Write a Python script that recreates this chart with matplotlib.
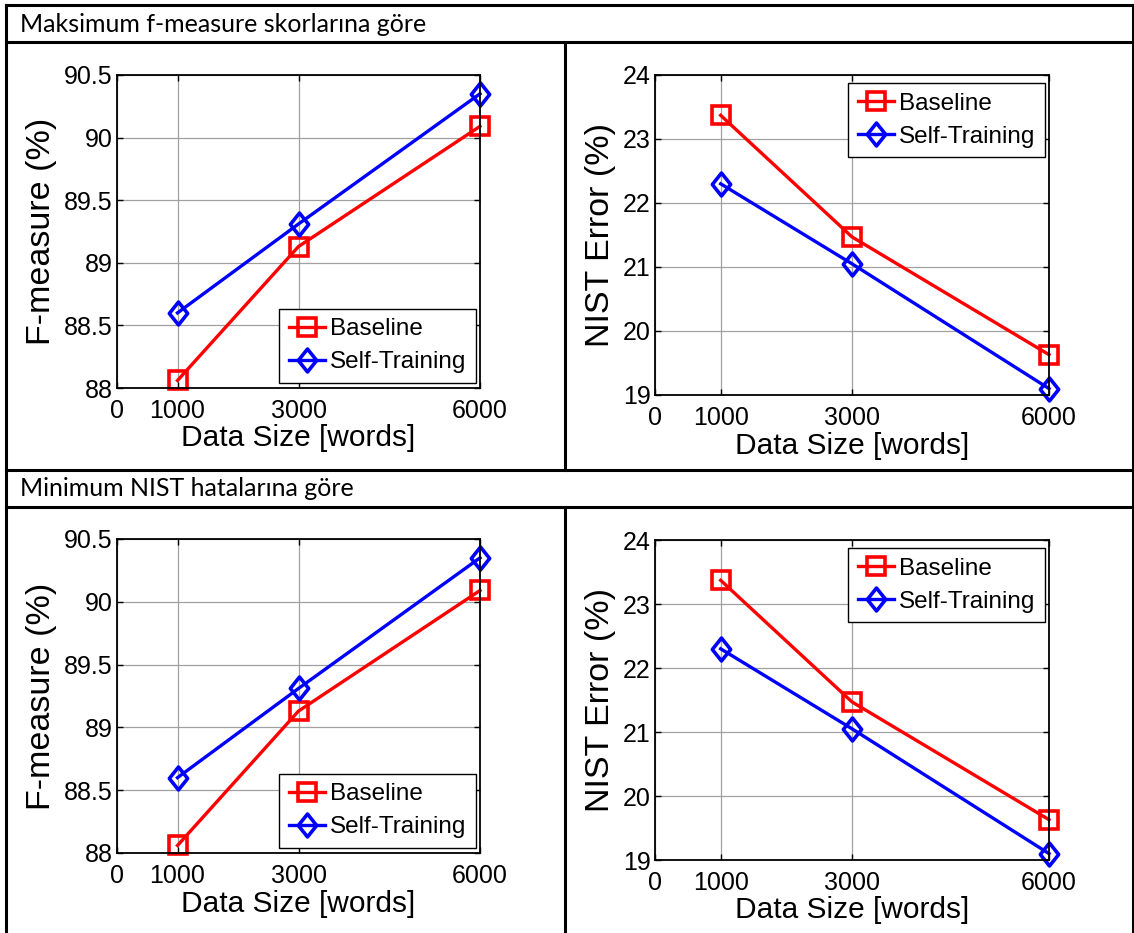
import matplotlib
matplotlib.use('Agg')
import matplotlib.pyplot as plt
from matplotlib.lines import Line2D
from matplotlib.path import Path

W, H = 1134, 933

# data (identical in both rows of the table)
sizes = [1000, 3000, 6000]
x_ticks = [0, 1000, 3000, 6000]
fm_baseline = [88.06, 89.13, 90.09]
fm_self = [88.60, 89.31, 90.35]
nist_baseline = [23.37, 21.47, 19.63]
nist_self = [22.30, 21.05, 19.10]
fm_ticks = [88, 88.5, 89, 89.5, 90, 90.5]
fm_ticklabels = ['88', '88.5', '89', '89.5', '90', '90.5']
nist_ticks = [19, 20, 21, 22, 23, 24]
row_titles = ['Maksimum f-measure skorlarına göre', 'Minimum NIST hatalarına göre']
series_names = ['Baseline', 'Self-Training']

plt.rcParams['font.family'] = ['Liberation Sans', 'DejaVu Sans']

# matlab style diamond (a bit taller than wide)
diamond = Path([(0, 1), (0.8, 0), (0, -1), (-0.8, 0), (0, 1)],
               [Path.MOVETO, Path.LINETO, Path.LINETO, Path.LINETO, Path.CLOSEPOLY])


def px_rect(x0, y0, x1, y1):
    # pixel box (top-left origin) -> figure fraction rect
    return [x0 / W, 1 - y1 / H, (x1 - x0) / W, (y1 - y0) / H]


def hline(fig, y, x0, x1):
    fig.add_artist(Line2D([x0 / W, x1 / W], [1 - y / H, 1 - y / H],
                          transform=fig.transFigure, color='black', lw=2.2))


def vline(fig, x, y0, y1):
    fig.add_artist(Line2D([x / W, x / W], [1 - y0 / H, 1 - y1 / H],
                          transform=fig.transFigure, color='black', lw=2.2))


def draw_panel(ax, yb, ys, yticks, yticklabels, ylim, ylabel, leg_loc, leg_anchor, fig):
    ax.plot(sizes, yb, color='red', lw=2.4, marker='s', ms=13,
            mfc='none', mec='red', mew=2.6, label=series_names[0], clip_on=False)
    ax.plot(sizes, ys, color='blue', lw=2.4, marker=diamond, ms=16.5,
            mfc='none', mec='blue', mew=2.6, label=series_names[1], clip_on=False)
    ax.set_xlim(0, 6000)
    ax.set_ylim(*ylim)
    ax.set_xticks(x_ticks)
    ax.set_xticklabels([str(v) for v in x_ticks])
    ax.set_yticks(yticks)
    ax.set_yticklabels(yticklabels)
    ax.grid(True, color='#a0a0a0', lw=0.9)
    ax.tick_params(direction='in', length=4, width=1, top=True, right=True,
                   labelsize=18, colors='black')
    ax.tick_params(axis='x', pad=8)
    ax.tick_params(axis='y', pad=3)
    for sp in ax.spines.values():
        sp.set_linewidth(1.3)
    ax.set_xlabel('Data Size [words]', fontsize=21.5, labelpad=1)
    ax.set_ylabel(ylabel, fontsize=24.5, labelpad=5)
    ax.legend(loc=leg_loc, bbox_to_anchor=leg_anchor, bbox_transform=fig.transFigure,
              fontsize=17.5, fancybox=False, edgecolor='black', framealpha=1,
              borderpad=0.4, labelspacing=0.45, handlelength=1.5,
              handletextpad=0.2, borderaxespad=0)


fig = plt.figure(figsize=(W / 100, H / 100), dpi=100)

# table borders
hline(fig, 5, 6, 1133)
hline(fig, 42, 6, 1133)
hline(fig, 470, 6, 1133)
hline(fig, 507, 6, 1133)
vline(fig, 6, 5, 933)
vline(fig, 1133, 5, 933)
vline(fig, 565, 42, 470)
vline(fig, 565, 507, 933)

header_y = [24, 489]
left_boxes = [(117, 75, 480, 388), (117, 539, 480, 853)]
right_boxes = [(655, 75, 1049, 395), (655, 540, 1049, 860)]
left_leg = [(476 / W, 1 - 383 / H), (476 / W, 1 - 848 / H)]
right_leg = [(1045 / W, 1 - 83 / H), (1045 / W, 1 - 548 / H)]

for i in range(2):
    fig.text(20 / W, 1 - header_y[i] / H, row_titles[i], fontsize=18,
             family=['Lato', 'DejaVu Sans'], va='center', ha='left')

    ax = fig.add_axes(px_rect(*left_boxes[i]))
    draw_panel(ax, fm_baseline, fm_self, fm_ticks, fm_ticklabels, (88, 90.5),
               'F-measure (%)', 'lower right', left_leg[i], fig)

    ax = fig.add_axes(px_rect(*right_boxes[i]))
    draw_panel(ax, nist_baseline, nist_self, nist_ticks, [str(v) for v in nist_ticks],
               (19, 24), 'NIST Error (%)', 'upper right', right_leg[i], fig)

fig.savefig('out.png', dpi=100)
